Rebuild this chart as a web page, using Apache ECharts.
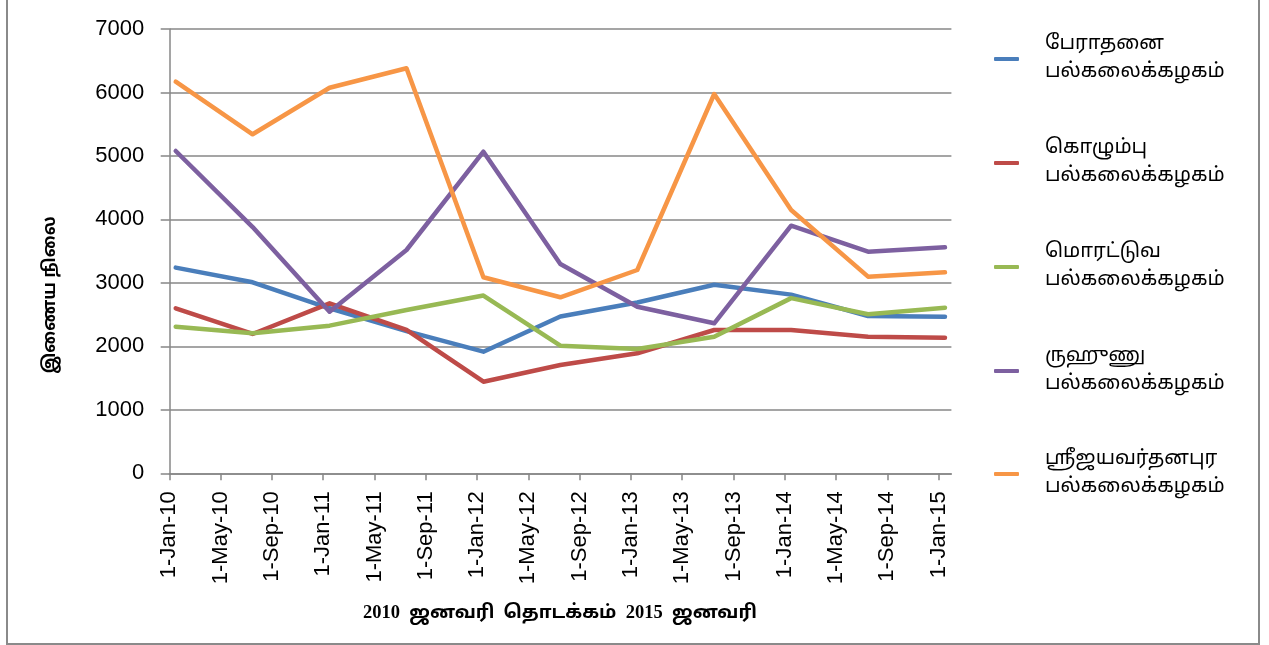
<!DOCTYPE html>
<html>
<head>
<meta charset="utf-8">
<script src="https://cdn.jsdelivr.net/npm/echarts@6/dist/echarts.min.js"></script>
<style>
html,body{margin:0;padding:0;background:#fff;}
#chart{width:1269px;height:645px;}
</style>
</head>
<body>
<div id="chart"></div>
<script>
// ---- data ----
const dates = ['2010-01','2010-07','2011-01','2011-07','2012-01','2012-07','2013-01','2013-07','2014-01','2014-07','2015-01'];
const tickLabels = ['1-Jan-10','1-May-10','1-Sep-10','1-Jan-11','1-May-11','1-Sep-11','1-Jan-12','1-May-12','1-Sep-12','1-Jan-13','1-May-13','1-Sep-13','1-Jan-14','1-May-14','1-Sep-14','1-Jan-15'];
const yTicks = [0, 1000, 2000, 3000, 4000, 5000, 6000, 7000];
const seriesNames = ['பேராதனை\nபல்கலைக்கழகம்','கொழும்பு\nபல்கலைக்கழகம்','மொரட்டுவ\nபல்கலைக்கழகம்','ருஹுணு\nபல்கலைக்கழகம்','ஸ்ரீஜயவர்தனபுர\nபல்கலைக்கழகம்'];
const peradeniya = [3240, 3009, 2600, 2240, 1916, 2470, 2690, 2970, 2815, 2478, 2468];
const colombo    = [2600, 2195, 2678, 2258, 1443, 1706, 1890, 2258, 2258, 2152, 2137];
const moratuwa   = [2310, 2205, 2326, 2573, 2800, 2011, 1958, 2152, 2760, 2505, 2609];
const ruhuna     = [5078, 3880, 2546, 3518, 5067, 3298, 2625, 2363, 3901, 3491, 3561];
const jayewardenepura = [6170, 5341, 6075, 6381, 3088, 2773, 3203, 5976, 4148, 3098, 3167];
const yTitle = 'இணைய நிலை';
const xTitle = '2010  ஜனவரி  தொடக்கம்  2015  ஜனவரி';

// ---- helpers ----
const MONTHS = {Jan:0,Feb:1,Mar:2,Apr:3,May:4,Jun:5,Jul:6,Aug:7,Sep:8,Oct:9,Nov:10,Dec:11};
function monthIndexFromISO(s){ const [y,m]=s.split('-').map(Number); return (y-2010)*12 + (m-1); }
function monthIndexFromLabel(s){ const p=s.split('-'); return (2000+Number(p[2])-2010)*12 + MONTHS[p[1]]; }
const tickMonths = tickLabels.map(monthIndexFromLabel);
const labelByMonth = {}; tickLabels.forEach((l,i)=>labelByMonth[tickMonths[i]]=l);
const axisMax = tickMonths[tickMonths.length-1] + 1; // month-based buckets, last bucket included

const colors = ['#4A7EBB','#BE4B48','#98B954','#7D60A0','#F79646'];
const allValues = [peradeniya, colombo, moratuwa, ruhuna, jayewardenepura];

const series = allValues.map((vals, i) => ({
  name: seriesNames[i],
  type: 'line',
  showSymbol: false,
  symbol: 'none',
  data: vals.map((v, j) => [monthIndexFromISO(dates[j]) + 0.5, v]),
  lineStyle: { color: colors[i], width: 4.5, cap: 'round', join: 'round' },
  itemStyle: { color: colors[i] },
  z: 2 + i
}));

// legend layout (style only)
const legendIconY = [59, 163, 267, 371, 474];
const legendPad = [[39,0],[0,0],[0,43],[27,0],[0,15]]; // [top,bottom]
const LH = 27.5;
const legends = seriesNames.map((n, i) => {
  const [pt, pb] = legendPad[i];
  const boxH = 2*LH + pt + pb;
  return {
    data: [n],
    left: 994,
    top: legendIconY[i] - boxH/2,
    orient: 'vertical',
    itemWidth: 25,
    itemHeight: 4,
    icon: 'roundRect',
    selectedMode: false,
    padding: 0,
    textStyle: {
      fontFamily: 'Noto Sans Tamil, Latha, Noto Sans, sans-serif',
      fontSize: 20,
      lineHeight: LH,
      color: '#000',
      padding: [pt, 0, pb, 21]
    }
  };
});

const chart = echarts.init(document.getElementById('chart'), null, {renderer: 'canvas'});
chart.setOption({
  animation: false,
  backgroundColor: '#fff',
  color: colors,
  grid: { left: 169.3, right: 317.6, top: 29, bottom: 171.7, containLabel: false },
  legend: legends,
  xAxis: {
    type: 'value',
    min: 0,
    max: axisMax,
    interval: 4,
    axisLine: { show: true, lineStyle: { color: '#878787', width: 1.5 } },
    axisTick: { show: true, length: 7, customValues: tickMonths, lineStyle: { color: '#878787', width: 1.5 } },
    axisLabel: {
      customValues: tickMonths,
      rotate: 90,
      margin: 18,
      fontFamily: 'Liberation Sans, Arial, sans-serif',
      fontSize: 22,
      color: '#000',
      formatter: v => labelByMonth[v] !== undefined ? labelByMonth[v] : ''
    },
    splitLine: { show: false }
  },
  yAxis: {
    type: 'value',
    min: yTicks[0],
    max: yTicks[yTicks.length-1],
    interval: yTicks[1]-yTicks[0],
    axisLine: { show: true, lineStyle: { color: '#878787', width: 1.5 } },
    axisTick: { show: true, inside: false, length: 8.6, lineStyle: { color: '#878787', width: 1.5 } },
    axisLabel: { margin: 25, fontFamily: 'Liberation Sans, Arial, sans-serif', fontSize: 22, color: '#000', formatter: v => String(v) },
    splitLine: { show: true, lineStyle: { color: '#878787', width: 1.5 } }
  },
  graphic: [
    { type: 'rect', shape: { x: 7, y: -10, width: 1252, height: 654 }, style: { fill: 'none', stroke: '#8a8a8a', lineWidth: 2 }, silent: true, z: -1 },
    { type: 'text', x: 52, y: 295, rotation: Math.PI/2,
      style: { text: yTitle, fontFamily: 'Noto Sans Tamil, Latha, Noto Sans, sans-serif', fontWeight: 'bold', fontSize: 17, fill: '#000', align: 'center', verticalAlign: 'middle' } },
    { type: 'text', x: 560, y: 613,
      style: { text: xTitle, fontFamily: 'Liberation Serif, Noto Sans Tamil, serif', fontWeight: 'bold', fontSize: 18.5, fill: '#000', align: 'center', verticalAlign: 'middle' } }
  ],
  series: series
});
</script>
</body>
</html>
